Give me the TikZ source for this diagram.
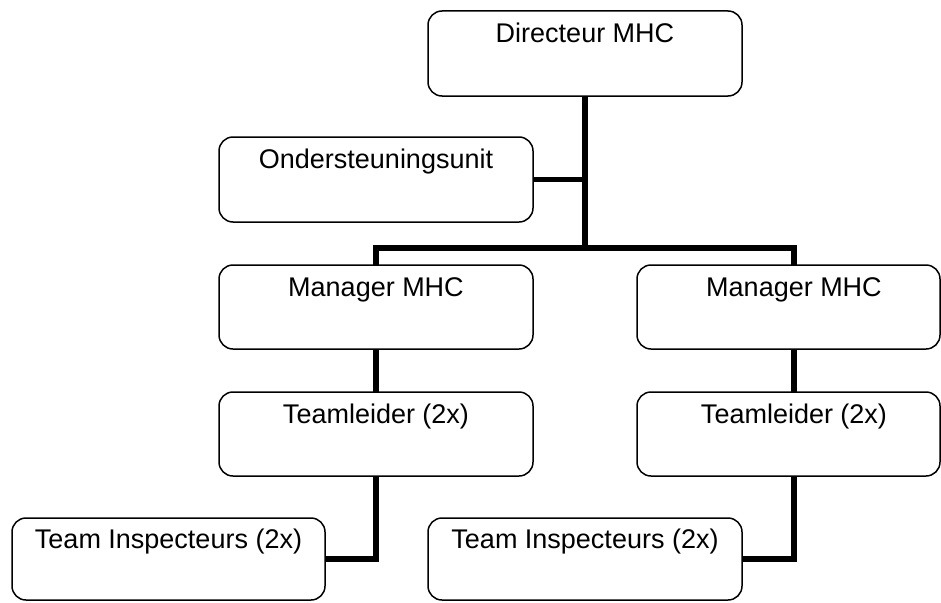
\documentclass[tikz,border=0pt]{standalone}
\usepackage{fontspec}
\setmainfont{Liberation Sans}
\begin{document}
\begin{tikzpicture}[x=1pt,y=-1pt,
  box/.style={draw=black, line width=1.5pt, rounded corners=14pt, fill=white,
    inner sep=0pt, outer sep=0pt, minimum height=85pt},
  lbl/.style={anchor=base, inner sep=0pt, font=\fontsize{27}{31}\selectfont},
  conn/.style={draw=black, line width=5.2pt, line join=miter, line cap=butt}]
\useasboundingbox[fill=white] (0,0) rectangle (941,602);
\clip (0,0) rectangle (941,602);
% boxes
\node[box, minimum width=314pt] (dir) at (585,53.5) {};
\node[box, minimum width=314pt] (ond) at (376,179.5) {};
\node[box, minimum width=314pt, minimum height=84pt] (manL) at (376,307) {};
\node[box, minimum width=303pt, minimum height=84pt] (manR) at (788.5,307) {};
\node[box, minimum width=314pt, minimum height=84pt] (tlL) at (376,434) {};
\node[box, minimum width=303pt, minimum height=84pt] (tlR) at (788.5,434) {};
\node[box, minimum width=313pt, minimum height=82pt] (tiL) at (168.5,559) {};
\node[box, minimum width=314pt, minimum height=82pt] (tiR) at (585,559) {};
% texts
\node[lbl] (dirT) at (585,42) {Directeur MHC};
\node[lbl] (ondT) at (376,168) {Ondersteuningsunit};
\node[lbl] (manLT) at (376,296) {Manager MHC};
\node[lbl] (manRT) at (794,296) {Manager MHC};
\node[lbl] (tlLT) at (376,423) {Teamleider (2x)};
\node[lbl] (tlRT) at (794,423) {Teamleider (2x)};
\node[lbl] (tiLT) at (168.5,548) {Team Inspecteurs (2x)};
\node[lbl] (tiRT) at (585,548) {Team Inspecteurs (2x)};
% connectors
\coordinate (jn) at (585,248);
\coordinate (busR) at (794,248);
\draw[conn] (dir.south) -- (jn);
\draw[conn] (ond.east) -- (ond.east -| jn);
\draw[conn] (manL.north) |- (busR) -- (busR |- manR.north);
\draw[conn] (manL.south) -- (tlL.north);
\draw[conn] (busR |- manR.south) -- (busR |- tlR.north);
\draw[conn] (tlL.south) |- (tiL.east);
\draw[conn] (busR |- tlR.south) |- (tiR.east);
\end{tikzpicture}
\end{document}
